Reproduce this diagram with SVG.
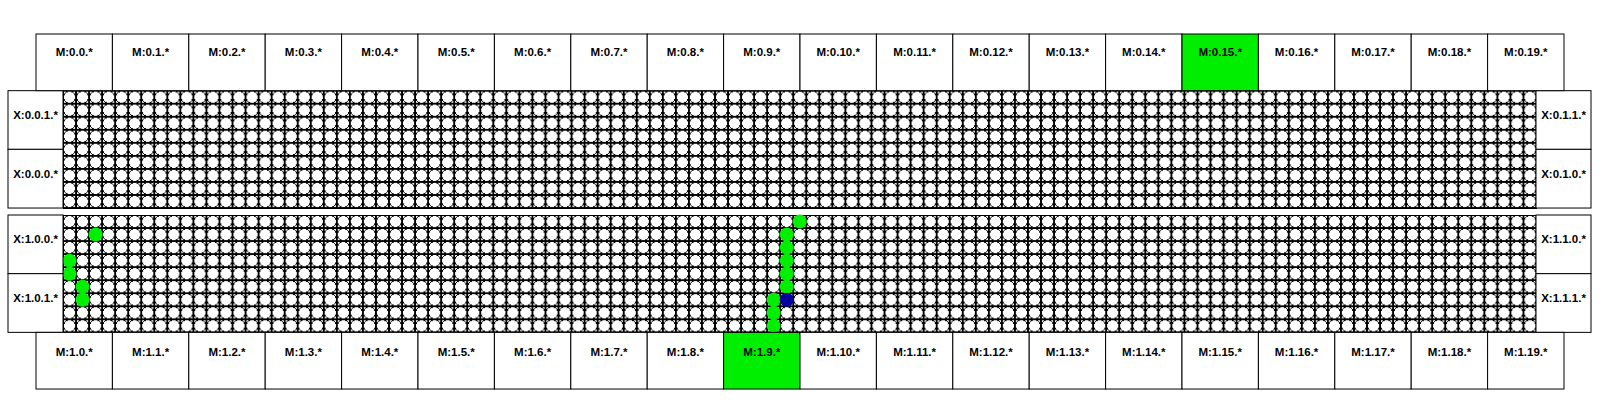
<svg xmlns="http://www.w3.org/2000/svg" width="1600" height="400" viewBox="0 0 1600 400">
<style>
.box{fill:#fff;stroke:#000;stroke-width:1}
.hi{fill:#00ee00;stroke:#000;stroke-width:1}
.lbl{font-family:"Liberation Sans",Arial,sans-serif;font-weight:bold;font-size:11.5px;fill:#000;text-anchor:middle}
.g{fill:#00ee00}
.b{fill:#00009c}
.panel{fill:url(#cell);stroke:#000;stroke-width:1}
.crisp{shape-rendering:crispEdges}
</style>
<defs>
<pattern id="cell" width="13.04" height="13.04" patternUnits="userSpaceOnUse">
<g class="crisp">
<rect width="13.04" height="13.04" fill="#fff" stroke="#000" stroke-width="1"/>
<circle cx="6.52" cy="6.52" r="6" fill="#fff" stroke="#000" stroke-width="1"/>
</g>
</pattern>
</defs>
<rect width="1600" height="400" fill="#fff"/>

<g id="grid-top" class="crisp" transform="translate(63,90.67)">
<rect class="panel" width="1473" height="117.36"/>
</g>
<g id="grid-bottom" transform="translate(63,215)">
<rect class="panel crisp" width="1473" height="117.36"/>
<circle class="g" cx="32.6" cy="19.56" r="7"/>
<circle class="g" cx="6.52" cy="45.64" r="7"/>
<circle class="g" cx="6.52" cy="58.68" r="7"/>
<circle class="g" cx="19.56" cy="71.72" r="7"/>
<circle class="g" cx="19.56" cy="84.76" r="7"/>
<circle class="g" cx="736.74" cy="6.52" r="7"/>
<circle class="g" cx="723.7" cy="19.56" r="7"/>
<circle class="g" cx="723.7" cy="32.6" r="7"/>
<circle class="g" cx="723.7" cy="45.64" r="7"/>
<circle class="g" cx="723.7" cy="58.68" r="7"/>
<circle class="g" cx="723.7" cy="71.72" r="7"/>
<circle class="g" cx="710.66" cy="84.76" r="7"/>
<circle class="g" cx="710.66" cy="97.8" r="7"/>
<circle class="g" cx="710.66" cy="110.84" r="7"/>
<circle class="b" cx="723.7" cy="84.76" r="7"/>
</g>

<g id="X-0-0-1"><rect class="box" x="8" y="90.67" width="55" height="58.67"/><text class="lbl" x="35.5" y="119">X:0.0.1.*</text></g>
<g id="X-0-0-0"><rect class="box" x="8" y="149.33" width="55" height="58.7"/><text class="lbl" x="35.5" y="177.8">X:0.0.0.*</text></g>
<g id="X-0-1-1"><rect class="box" x="1536" y="90.67" width="55" height="58.67"/><text class="lbl" x="1563.5" y="119">X:0.1.1.*</text></g>
<g id="X-0-1-0"><rect class="box" x="1536" y="149.33" width="55" height="58.7"/><text class="lbl" x="1563.5" y="177.8">X:0.1.0.*</text></g>
<g id="X-1-0-0"><rect class="box" x="8" y="215" width="55" height="58.68"/><text class="lbl" x="35.5" y="243">X:1.0.0.*</text></g>
<g id="X-1-0-1"><rect class="box" x="8" y="273.68" width="55" height="58.68"/><text class="lbl" x="35.5" y="302">X:1.0.1.*</text></g>
<g id="X-1-1-0"><rect class="box" x="1536" y="215" width="55" height="58.68"/><text class="lbl" x="1563.5" y="243">X:1.1.0.*</text></g>
<g id="X-1-1-1"><rect class="box" x="1536" y="273.68" width="55" height="58.68"/><text class="lbl" x="1563.5" y="302">X:1.1.1.*</text></g>

<g id="M-0-0" transform="translate(36,34)"><rect class="box" width="76.4" height="56.67"/><text class="lbl" x="38.2" y="21.7">M:0.0.*</text></g>
<g id="M-0-1" transform="translate(112.4,34)"><rect class="box" width="76.4" height="56.67"/><text class="lbl" x="38.2" y="21.7">M:0.1.*</text></g>
<g id="M-0-2" transform="translate(188.8,34)"><rect class="box" width="76.4" height="56.67"/><text class="lbl" x="38.2" y="21.7">M:0.2.*</text></g>
<g id="M-0-3" transform="translate(265.2,34)"><rect class="box" width="76.4" height="56.67"/><text class="lbl" x="38.2" y="21.7">M:0.3.*</text></g>
<g id="M-0-4" transform="translate(341.6,34)"><rect class="box" width="76.4" height="56.67"/><text class="lbl" x="38.2" y="21.7">M:0.4.*</text></g>
<g id="M-0-5" transform="translate(418,34)"><rect class="box" width="76.4" height="56.67"/><text class="lbl" x="38.2" y="21.7">M:0.5.*</text></g>
<g id="M-0-6" transform="translate(494.4,34)"><rect class="box" width="76.4" height="56.67"/><text class="lbl" x="38.2" y="21.7">M:0.6.*</text></g>
<g id="M-0-7" transform="translate(570.8,34)"><rect class="box" width="76.4" height="56.67"/><text class="lbl" x="38.2" y="21.7">M:0.7.*</text></g>
<g id="M-0-8" transform="translate(647.2,34)"><rect class="box" width="76.4" height="56.67"/><text class="lbl" x="38.2" y="21.7">M:0.8.*</text></g>
<g id="M-0-9" transform="translate(723.6,34)"><rect class="box" width="76.4" height="56.67"/><text class="lbl" x="38.2" y="21.7">M:0.9.*</text></g>
<g id="M-0-10" transform="translate(800,34)"><rect class="box" width="76.4" height="56.67"/><text class="lbl" x="38.2" y="21.7">M:0.10.*</text></g>
<g id="M-0-11" transform="translate(876.4,34)"><rect class="box" width="76.4" height="56.67"/><text class="lbl" x="38.2" y="21.7">M:0.11.*</text></g>
<g id="M-0-12" transform="translate(952.8,34)"><rect class="box" width="76.4" height="56.67"/><text class="lbl" x="38.2" y="21.7">M:0.12.*</text></g>
<g id="M-0-13" transform="translate(1029.2,34)"><rect class="box" width="76.4" height="56.67"/><text class="lbl" x="38.2" y="21.7">M:0.13.*</text></g>
<g id="M-0-14" transform="translate(1105.6,34)"><rect class="box" width="76.4" height="56.67"/><text class="lbl" x="38.2" y="21.7">M:0.14.*</text></g>
<g id="M-0-15" transform="translate(1182,34)"><rect class="hi" width="76.4" height="56.67"/><text class="lbl" x="38.2" y="21.7">M:0.15.*</text></g>
<g id="M-0-16" transform="translate(1258.4,34)"><rect class="box" width="76.4" height="56.67"/><text class="lbl" x="38.2" y="21.7">M:0.16.*</text></g>
<g id="M-0-17" transform="translate(1334.8,34)"><rect class="box" width="76.4" height="56.67"/><text class="lbl" x="38.2" y="21.7">M:0.17.*</text></g>
<g id="M-0-18" transform="translate(1411.2,34)"><rect class="box" width="76.4" height="56.67"/><text class="lbl" x="38.2" y="21.7">M:0.18.*</text></g>
<g id="M-0-19" transform="translate(1487.6,34)"><rect class="box" width="76.4" height="56.67"/><text class="lbl" x="38.2" y="21.7">M:0.19.*</text></g>

<g id="M-1-0" transform="translate(36,332.36)"><rect class="box" width="76.4" height="56.67"/><text class="lbl" x="38.2" y="23.2">M:1.0.*</text></g>
<g id="M-1-1" transform="translate(112.4,332.36)"><rect class="box" width="76.4" height="56.67"/><text class="lbl" x="38.2" y="23.2">M:1.1.*</text></g>
<g id="M-1-2" transform="translate(188.8,332.36)"><rect class="box" width="76.4" height="56.67"/><text class="lbl" x="38.2" y="23.2">M:1.2.*</text></g>
<g id="M-1-3" transform="translate(265.2,332.36)"><rect class="box" width="76.4" height="56.67"/><text class="lbl" x="38.2" y="23.2">M:1.3.*</text></g>
<g id="M-1-4" transform="translate(341.6,332.36)"><rect class="box" width="76.4" height="56.67"/><text class="lbl" x="38.2" y="23.2">M:1.4.*</text></g>
<g id="M-1-5" transform="translate(418,332.36)"><rect class="box" width="76.4" height="56.67"/><text class="lbl" x="38.2" y="23.2">M:1.5.*</text></g>
<g id="M-1-6" transform="translate(494.4,332.36)"><rect class="box" width="76.4" height="56.67"/><text class="lbl" x="38.2" y="23.2">M:1.6.*</text></g>
<g id="M-1-7" transform="translate(570.8,332.36)"><rect class="box" width="76.4" height="56.67"/><text class="lbl" x="38.2" y="23.2">M:1.7.*</text></g>
<g id="M-1-8" transform="translate(647.2,332.36)"><rect class="box" width="76.4" height="56.67"/><text class="lbl" x="38.2" y="23.2">M:1.8.*</text></g>
<g id="M-1-9" transform="translate(723.6,332.36)"><rect class="hi" width="76.4" height="56.67"/><text class="lbl" x="38.2" y="23.2">M:1.9.*</text></g>
<g id="M-1-10" transform="translate(800,332.36)"><rect class="box" width="76.4" height="56.67"/><text class="lbl" x="38.2" y="23.2">M:1.10.*</text></g>
<g id="M-1-11" transform="translate(876.4,332.36)"><rect class="box" width="76.4" height="56.67"/><text class="lbl" x="38.2" y="23.2">M:1.11.*</text></g>
<g id="M-1-12" transform="translate(952.8,332.36)"><rect class="box" width="76.4" height="56.67"/><text class="lbl" x="38.2" y="23.2">M:1.12.*</text></g>
<g id="M-1-13" transform="translate(1029.2,332.36)"><rect class="box" width="76.4" height="56.67"/><text class="lbl" x="38.2" y="23.2">M:1.13.*</text></g>
<g id="M-1-14" transform="translate(1105.6,332.36)"><rect class="box" width="76.4" height="56.67"/><text class="lbl" x="38.2" y="23.2">M:1.14.*</text></g>
<g id="M-1-15" transform="translate(1182,332.36)"><rect class="box" width="76.4" height="56.67"/><text class="lbl" x="38.2" y="23.2">M:1.15.*</text></g>
<g id="M-1-16" transform="translate(1258.4,332.36)"><rect class="box" width="76.4" height="56.67"/><text class="lbl" x="38.2" y="23.2">M:1.16.*</text></g>
<g id="M-1-17" transform="translate(1334.8,332.36)"><rect class="box" width="76.4" height="56.67"/><text class="lbl" x="38.2" y="23.2">M:1.17.*</text></g>
<g id="M-1-18" transform="translate(1411.2,332.36)"><rect class="box" width="76.4" height="56.67"/><text class="lbl" x="38.2" y="23.2">M:1.18.*</text></g>
<g id="M-1-19" transform="translate(1487.6,332.36)"><rect class="box" width="76.4" height="56.67"/><text class="lbl" x="38.2" y="23.2">M:1.19.*</text></g>
</svg>
